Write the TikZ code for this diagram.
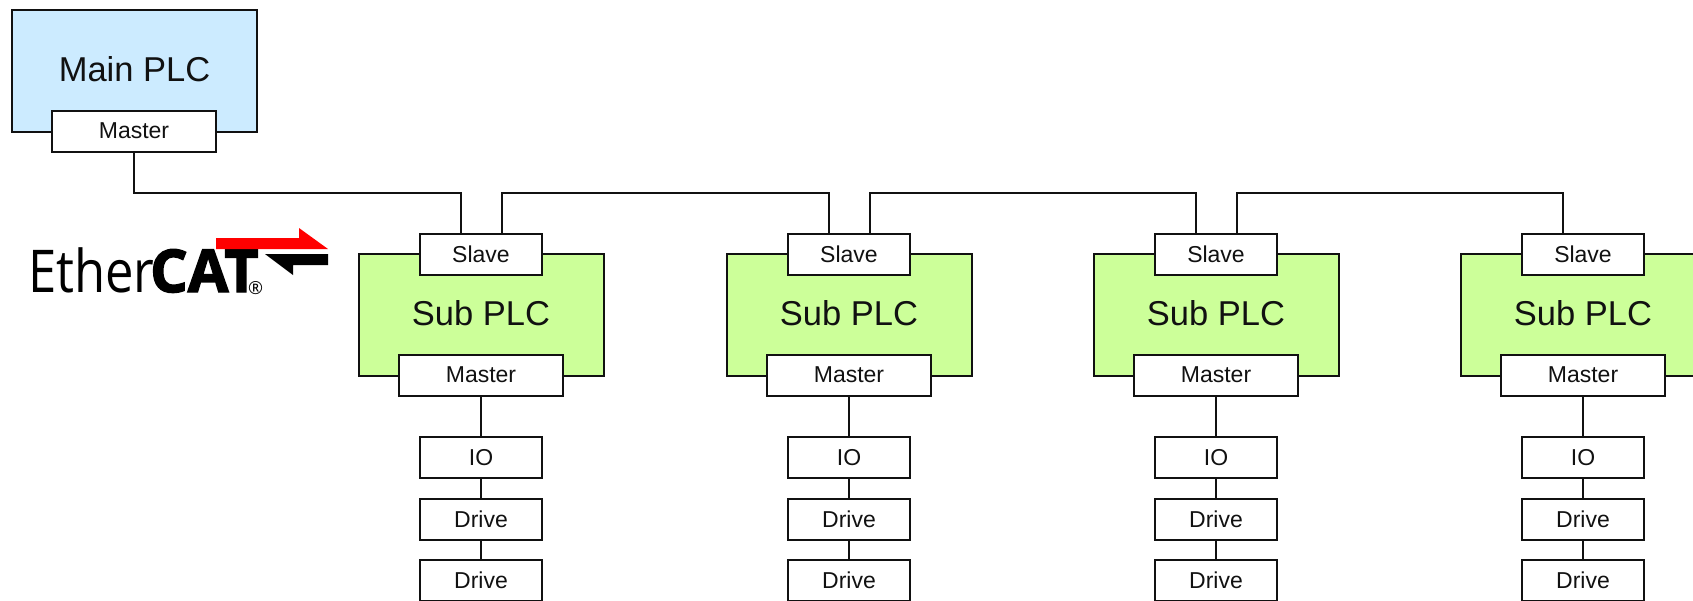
\documentclass[tikz,border=0pt]{standalone}
\usepackage{fontspec}
\setmainfont{Liberation Sans}
\newfontfamily\logofont[BoldFeatures={FakeBold=2.5}]{Open Sans}
\definecolor{mainblue}{HTML}{CCEBFF}
\definecolor{subgreen}{HTML}{CCFF99}
\definecolor{logored}{HTML}{FF0000}
\definecolor{inkline}{HTML}{111111}
\tikzset{
  plcbox/.style={draw=inkline,line width=2pt,minimum width=245pt,minimum height=122pt,inner sep=0pt,font=\fontsize{34.5}{34.5}\selectfont,text depth=4pt,text=inkline},
  portbox/.style={draw=inkline,fill=white,line width=2pt,minimum height=41pt,inner sep=0pt,font=\fontsize{23}{23}\selectfont,text depth=1pt,text=inkline},
  wideport/.style={portbox,minimum width=164pt},
  narrowport/.style={portbox,minimum width=122pt},
  wire/.style={draw=inkline,line width=2pt},
  logotext/.style={inner sep=0pt,anchor=base west,text=black}
}
\begin{document}
\begin{tikzpicture}[x=1pt,y=-1pt]
\useasboundingbox (0,0) rectangle (1693,600);
\clip (0,0) rectangle (1693,600);
% Main PLC
\node[plcbox,fill=mainblue] (main) at (134.5,71) {Main PLC};
\node[wideport] (mainM) at (134,131.5) {Master};
\coordinate (busout0) at (mainM.south);
% Columns
\foreach \i/\cx in {1/481,2/849,3/1216,4/1583}{
  \node[plcbox,fill=subgreen] (sub\i) at (\cx,315) {Sub PLC};
  \node[narrowport] (slave\i) at (\cx,254.5) {Slave};
  \node[wideport] (master\i) at (\cx,375.5) {Master};
  \node[narrowport] (io\i) at (\cx,457.5) {IO};
  \node[narrowport] (driveA\i) at (\cx,519.5) {Drive};
  \node[narrowport] (driveB\i) at (\cx,580.5) {Drive};
  \coordinate (busin\i) at ([xshift=-20pt]slave\i.north);
  \coordinate (busout\i) at ([xshift=21pt]slave\i.north);
  \draw[wire] (master\i.south) -- (io\i.north);
  \draw[wire] (io\i.south) -- (driveA\i.north);
  \draw[wire] (driveA\i.south) -- (driveB\i.north);
}
% Bus
\coordinate (busline) at (0,193);
\draw[wire] (busout0) |- (busin1 |- busline) -- (busin1);
\draw[wire] (busout1) |- (busin2 |- busline) -- (busin2);
\draw[wire] (busout2) |- (busin3 |- busline) -- (busin3);
\draw[wire] (busout3) |- (busin4 |- busline) -- (busin4);
% EtherCAT logo
\node[logotext,xscale=0.86,transform shape] (logoEther) at (28,292) {\logofont\fontsize{59}{59}\selectfont Ether};
\node[logotext,xscale=1.0,transform shape] (logoCat) at (150,292) {\logofont\fontsize{59}{59}\selectfont\bfseries CAT};
\node[logotext] (logoReg) at (248,294) {\logofont\fontsize{18}{18}\selectfont ®};
\fill[logored] (216,238) -- (299,238) -- (299,228) -- (328,249) -- (216,249) -- cycle;
\fill[black] (265,254) -- (328,254) -- (328,265) -- (293,265) -- (293,275) -- cycle;
\end{tikzpicture}
\end{document}
